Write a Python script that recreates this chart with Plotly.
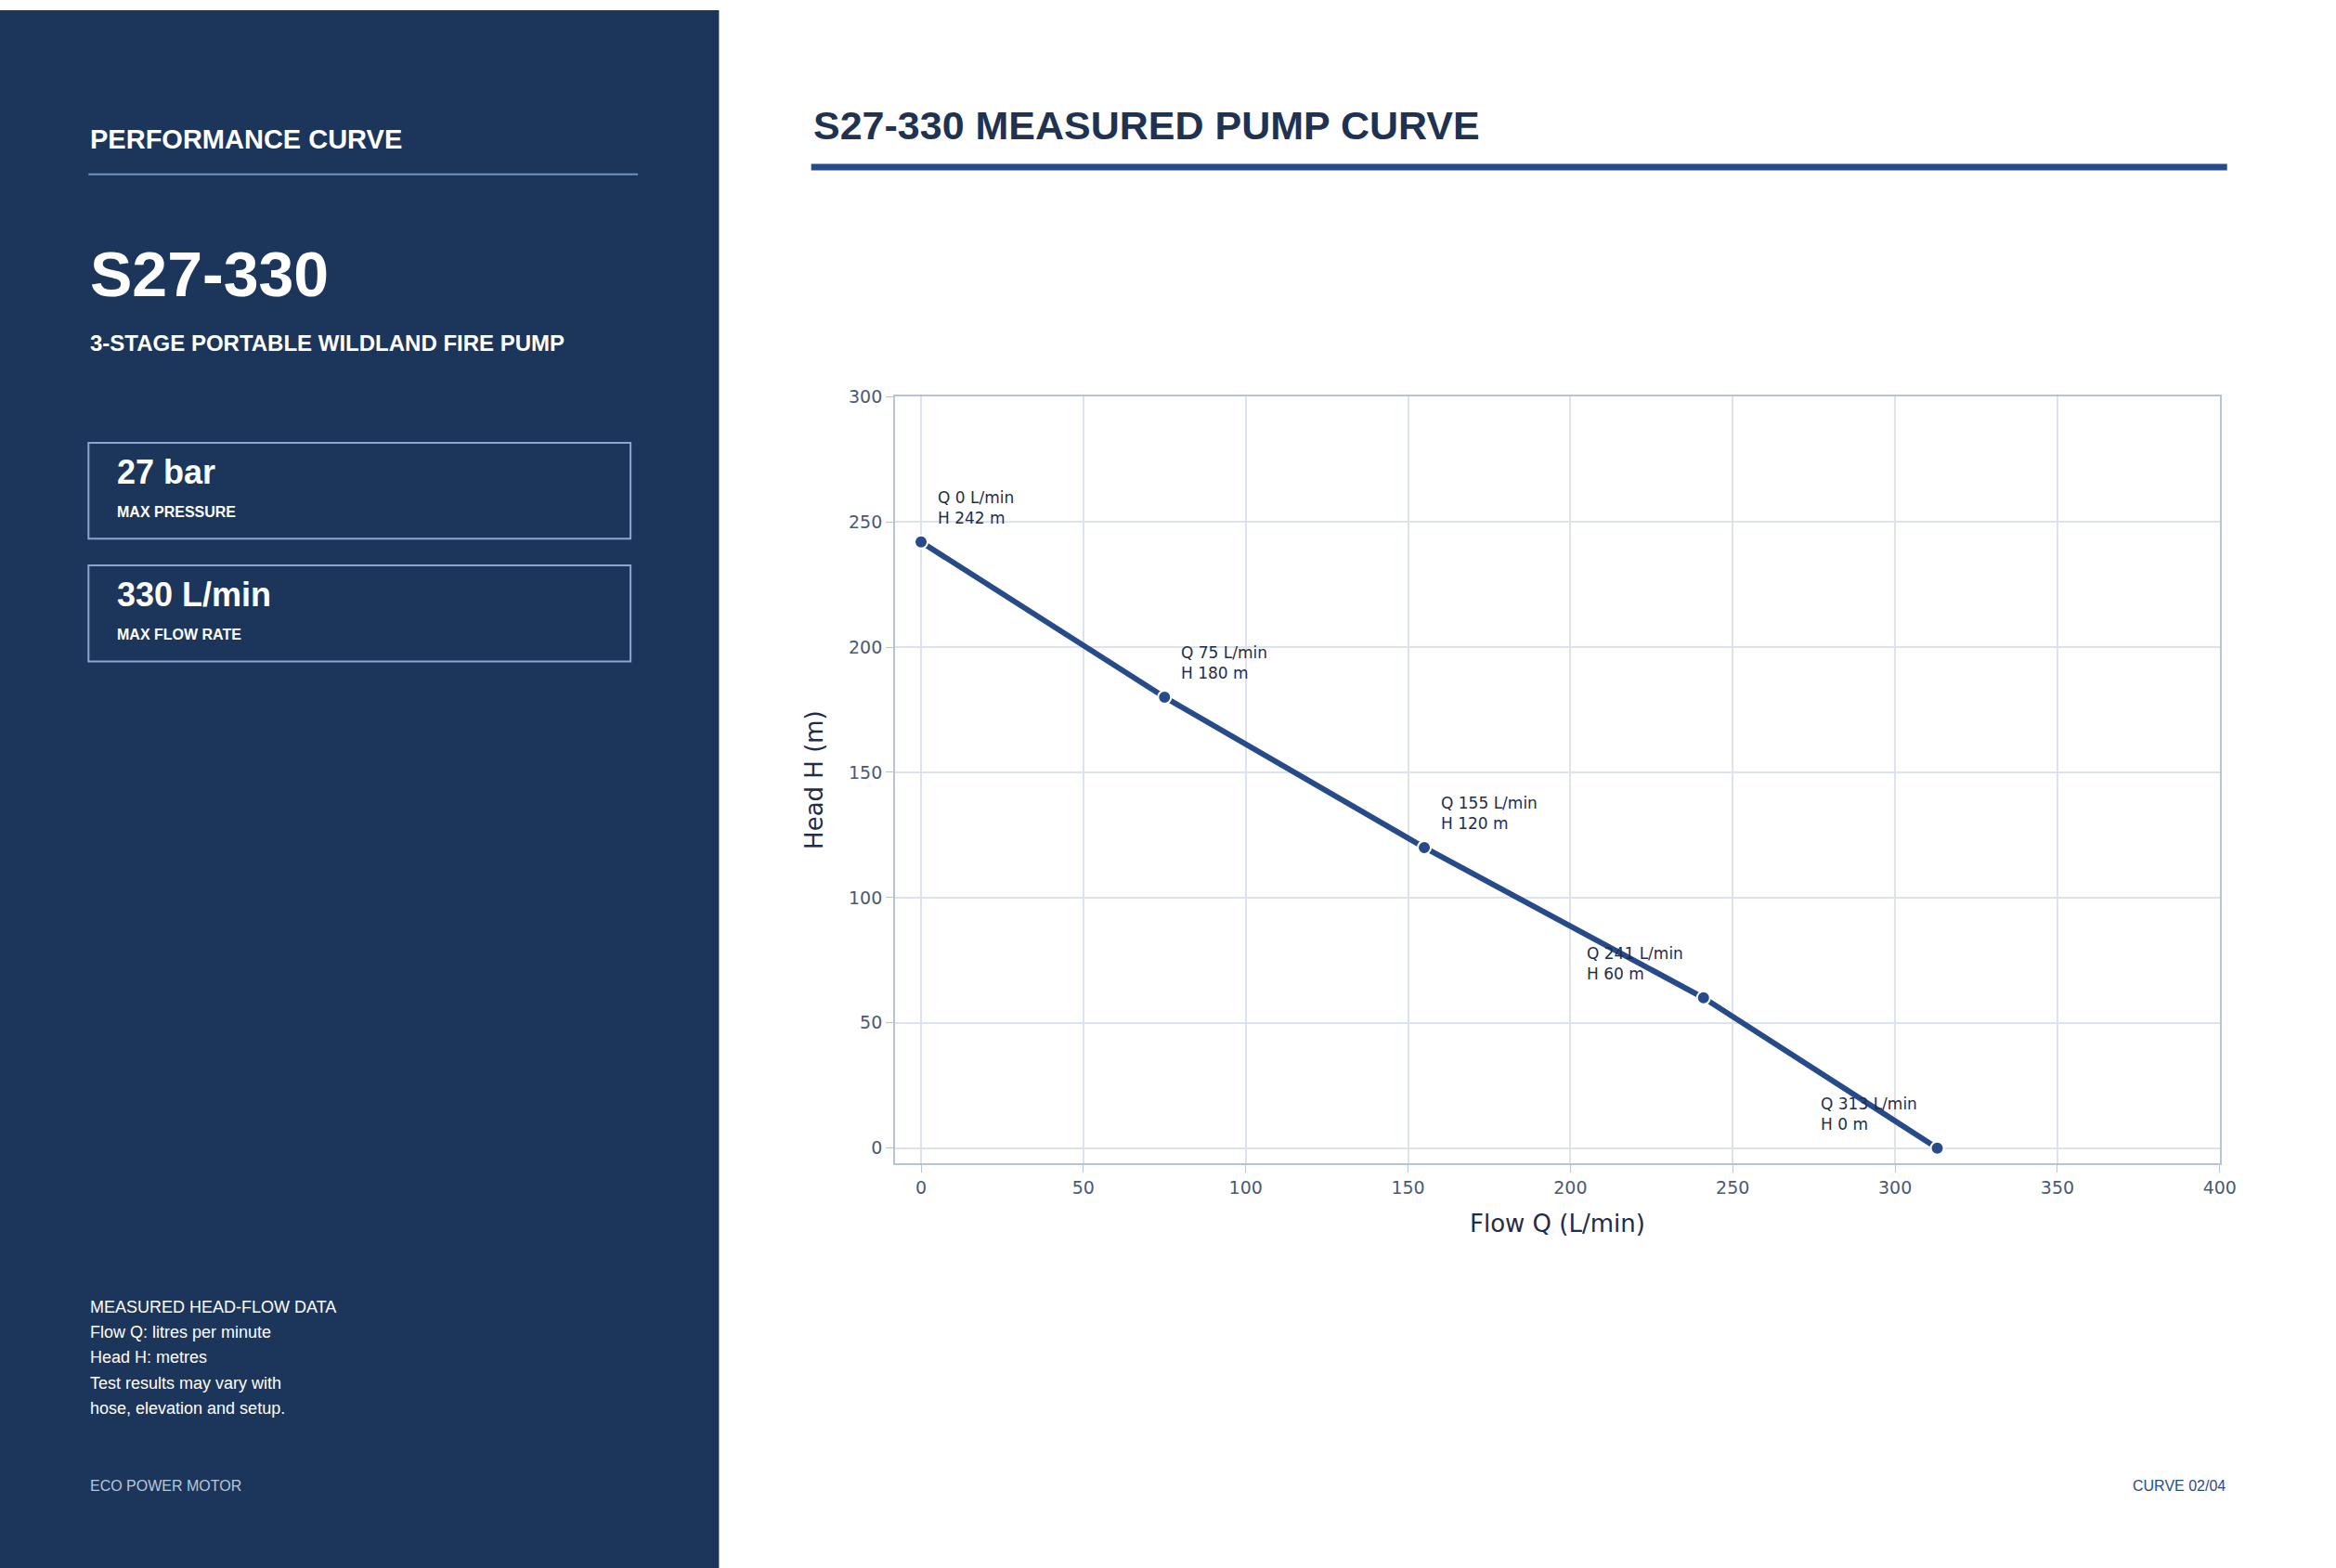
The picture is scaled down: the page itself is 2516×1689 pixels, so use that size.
import plotly.graph_objects as go

flow_q = [0, 75, 155, 241, 313]
head_h = [242, 180, 120, 60, 0]
x_ticks = [0, 50, 100, 150, 200, 250, 300, 350, 400]
y_ticks = [0, 50, 100, 150, 200, 250, 300]
notes = ["MEASURED HEAD-FLOW DATA", "Flow Q: litres per minute", "Head H: metres",
         "Test results may vary with", "hose, elevation and setup."]
stats = [("27 bar", "MAX PRESSURE"), ("330 L/min", "MAX FLOW RATE")]

W, H = 2516, 1689
PANEL = "#1c355a"
ACCENT = "#274b8a"
SANS = "Liberation Sans, Arial, sans-serif"
CHART_FONT = "DejaVu Sans, sans-serif"


def px(x):
    return x / W


def py(y):
    return 1 - y / H


fig = go.Figure()
fig.add_trace(go.Scatter(
    x=flow_q, y=head_h, mode="lines+markers",
    line=dict(color=ACCENT, width=6),
    marker=dict(size=14, color=ACCENT, line=dict(color="white", width=2)),
    showlegend=False, hoverinfo="skip",
))

for i, (q, h) in enumerate(zip(flow_q, head_h)):
    # the last two labels sit to the left of their points
    left = i >= 3
    fig.add_annotation(x=q, y=h, xref="x", yref="y", text=f"Q {q} L/min<br>H {h} m",
                       showarrow=False, xanchor="right" if left else "left", yanchor="bottom",
                       align="left", xshift=-20 if left else 16, yshift=14,
                       font=dict(family=CHART_FONT, size=17, color="#1f2d4a"))

shapes = [
    dict(type="rect", xref="paper", yref="paper", x0=0, x1=px(780), y0=0, y1=1,
         fillcolor=PANEL, line=dict(width=0), layer="below"),
    dict(type="line", xref="paper", yref="paper", x0=px(96), x1=px(692), y0=py(178), y1=py(178),
         line=dict(color="#6f93c6", width=2)),
    dict(type="line", xref="paper", yref="paper", x0=px(880), x1=px(2416), y0=py(170), y1=py(170),
         line=dict(color=ACCENT, width=7)),
]
texts = [
    ("PERFORMANCE CURVE", 96, 140, 29, "white", True, "left"),
    ("S27-330", 96, 286, 68, "white", True, "left"),
    ("3-STAGE PORTABLE WILDLAND FIRE PUMP", 96, 361, 24, "white", True, "left"),
    ("S27-330 MEASURED PUMP CURVE", 880, 125, 43, "#1f3252", True, "left"),
    ("ECO POWER MOTOR", 96, 1600, 16, "#b9c7dc", False, "left"),
    ("CURVE 02/04", 2416, 1600, 16, ACCENT, False, "right"),
]
for i, (big, small) in enumerate(stats):
    top = 469 + i * 133
    shapes.append(dict(type="rect", xref="paper", yref="paper", x0=px(96), x1=px(684),
                       y0=py(top + 104), y1=py(top), line=dict(color="#8aa6cf", width=2)))
    texts.append((big, 125, top + 32, 36, "white", True, "left"))
    texts.append((small, 125, top + 75, 16, "white", True, "left"))
for i, line in enumerate(notes):
    texts.append((line, 96, 1406 + i * 27.5, 18, "white", False, "left"))

for t, x, y, size, color, bold, anchor in texts:
    fig.add_annotation(x=px(x), y=py(y), xref="paper", yref="paper",
                       text=f"<b>{t}</b>" if bold else t, showarrow=False,
                       xanchor=anchor, yanchor="middle",
                       font=dict(family=SANS, size=size, color=color))

axis_common = dict(showline=True, linecolor="#b8c4d6", linewidth=2, mirror=True,
                   gridcolor="#dde3ec", gridwidth=1.5, zeroline=False,
                   ticks="outside", ticklen=8, tickcolor="#b8c4d6",
                   tickfont=dict(family=CHART_FONT, size=19, color="#4a5a75"))
fig.update_layout(
    autosize=True, margin=dict(l=0, r=0, t=0, b=0),
    paper_bgcolor="white", plot_bgcolor="white", shapes=shapes,
    xaxis=dict(domain=[px(971), px(2408)], range=[-8, 400], tickvals=x_ticks,
               title=dict(text="Flow Q (L/min)", font=dict(family=CHART_FONT, size=26, color="#1f2d4a"), standoff=20),
               **axis_common),
    yaxis=dict(domain=[py(1250), py(419)], range=[-6, 300], tickvals=y_ticks,
               title=dict(text="Head H (m)", font=dict(family=CHART_FONT, size=26, color="#1f2d4a"), standoff=20),
               **axis_common),
)
pin = ("document.body.style.margin='0';document.body.style.overflow='hidden';"
       "var d=document.getElementById('{plot_id}');"
       "d.style.position='fixed';d.style.top='0';d.style.left='0';")
fig.write_html("out.html", post_script=pin, config={"displayModeBar": False, "responsive": True},
               default_width="100vw", default_height="100vh")
